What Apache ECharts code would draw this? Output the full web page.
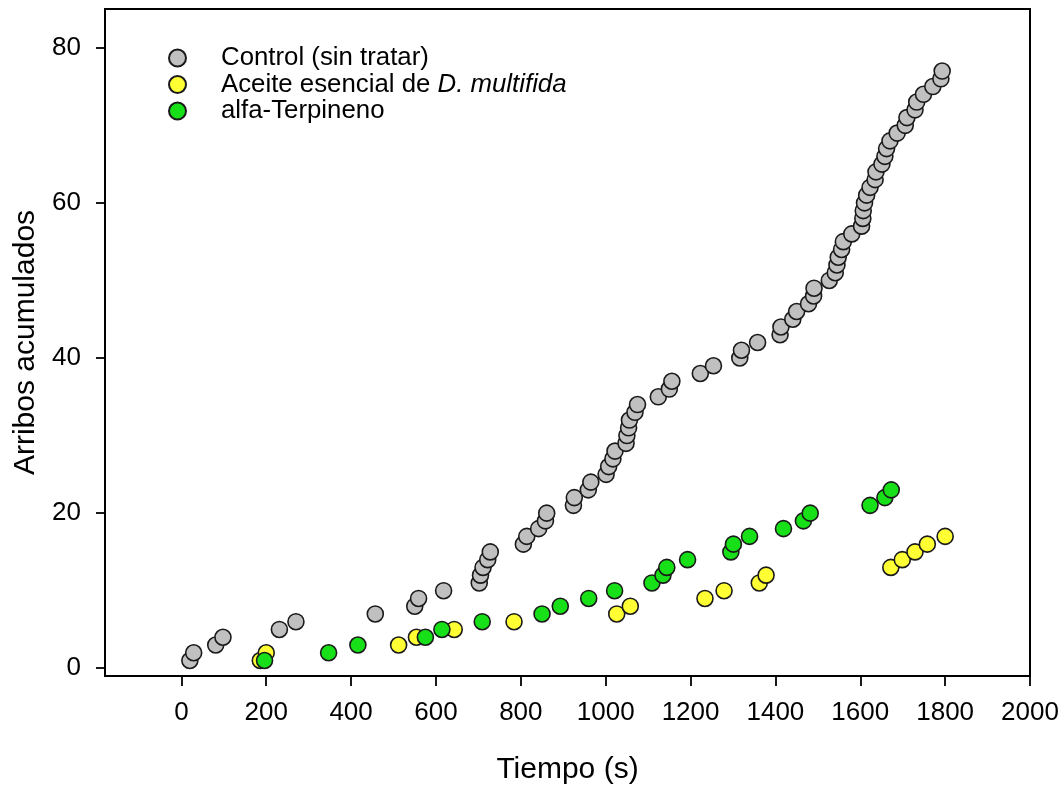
<!DOCTYPE html>
<html>
<head>
<meta charset="utf-8">
<script src="https://cdn.jsdelivr.net/npm/echarts@6/dist/echarts.min.js"></script>
<style>
  html, body { margin: 0; padding: 0; background: #ffffff; }
  #chart { width: 1064px; height: 787px; }
</style>
</head>
<body>
<div id="chart"></div>
<script>
// Cumulative arrivals over time for each treatment
const seriesNames = ['Control (sin tratar)', 'Aceite esencial de D. multifida', 'alfa-Terpineno'];

const controlTime = [20, 29, 81, 98, 231, 270, 457, 550, 559, 618,
  702, 705, 711, 722, 728, 806, 814, 842, 858, 861,
  924, 926, 959, 965, 1001, 1007, 1017, 1022, 1048, 1050,
  1054, 1056, 1069, 1075, 1124, 1150, 1156, 1223, 1254, 1316,
  1320, 1358, 1411, 1413, 1441, 1450, 1478, 1490, 1491, 1527,
  1541, 1545, 1548, 1556, 1560, 1580, 1603, 1606, 1607, 1610,
  1615, 1623, 1635, 1637, 1651, 1658, 1662, 1670, 1687, 1706,
  1710, 1729, 1733, 1749, 1771, 1790, 1793];
const controlCount = [1, 2, 3, 4, 5, 6, 7, 8, 9, 10,
  11, 12, 13, 14, 15, 16, 17, 18, 19, 20,
  21, 22, 23, 24, 25, 26, 27, 28, 29, 30,
  31, 32, 33, 34, 35, 36, 37, 38, 39, 40,
  41, 42, 43, 44, 45, 46, 47, 48, 49, 50,
  51, 52, 53, 54, 55, 56, 57, 58, 59, 60,
  61, 62, 63, 64, 65, 66, 67, 68, 69, 70,
  71, 72, 73, 74, 75, 76, 77];

const aceiteTime = [186, 200, 512, 554, 643, 784, 1026, 1058, 1234, 1279,
  1362, 1378, 1672, 1699, 1729, 1758, 1800];
const aceiteCount = [1, 2, 3, 4, 5, 6, 7, 8, 9, 10,
  11, 12, 13, 14, 15, 16, 17];

const terpTime = [196, 347, 416, 575, 614, 709, 850, 893, 960, 1021,
  1109, 1135, 1144, 1193, 1295, 1301, 1339, 1419, 1466, 1482,
  1623, 1658, 1673];
const terpCount = [1, 2, 3, 4, 5, 6, 7, 8, 9, 10,
  11, 12, 13, 14, 15, 16, 17, 18, 19, 20,
  21, 22, 23];

const xTicks = [0, 200, 400, 600, 800, 1000, 1200, 1400, 1600, 1800, 2000];
const yTicks = [0, 20, 40, 60, 80];

const colors = ['#c0c0c0', '#ffff33', '#18e018'];
const FONT = '"Liberation Sans", Arial, Helvetica, sans-serif';

function pairs(xs, ys) {
  return xs.map((x, i) => [x, ys[i]]);
}

const chart = echarts.init(document.getElementById('chart'), null, { renderer: 'canvas' });

const makeSeries = (name, data, color) => ({
  name: name,
  type: 'scatter',
  data: data,
  symbol: 'circle',
  symbolSize: 16,
  itemStyle: { color: color, borderColor: '#1a1a1a', borderWidth: 1.6, opacity: 1 },
  emphasis: { disabled: true },
  animation: false
});

const plainLabel = (v) => String(v);

chart.setOption({
  backgroundColor: '#ffffff',
  animation: false,
  textStyle: { fontFamily: FONT },
  grid: {
    left: 105, right: 34, top: 9, bottom: 111,
    show: true, borderColor: '#000', borderWidth: 2,
    outerBoundsMode: 'none'
  },
  legend: {
    orient: 'vertical',
    left: 163, top: 40,
    itemWidth: 17, itemHeight: 17, itemGap: 0.5,
    icon: 'circle',
    selectedMode: false,
    data: seriesNames,
    textStyle: {
      fontFamily: FONT, fontSize: 25.8, color: '#000', lineHeight: 25,
      padding: [0, 0, 0, 30],
      rich: {
        n: { fontFamily: FONT, fontSize: 25.8, color: '#000' },
        i: { fontFamily: FONT, fontSize: 25.8, color: '#000', fontStyle: 'italic' }
      }
    },
    formatter: function (name) {
      if (name === seriesNames[1]) {
        return '{n|Aceite esencial de }{i|D. multifida}';
      }
      return name;
    }
  },
  xAxis: {
    type: 'value',
    min: -180, max: 2000,
    name: 'Tiempo (s)',
    nameLocation: 'middle',
    nameGap: 79,
    nameTextStyle: { fontFamily: FONT, fontSize: 30, color: '#000' },
    axisLine: { show: true, onZero: false, lineStyle: { color: '#000', width: 2 } },
    axisTick: { show: true, inside: false, length: 10, customValues: xTicks, lineStyle: { color: '#000', width: 1.8 } },
    axisLabel: { customValues: xTicks, formatter: plainLabel, margin: 24, fontFamily: FONT, fontSize: 26, color: '#000' },
    splitLine: { show: false }
  },
  yAxis: {
    type: 'value',
    min: -1, max: 85,
    name: 'Arribos acumulados',
    nameLocation: 'middle',
    nameGap: 62,
    nameTextStyle: { fontFamily: FONT, fontSize: 30, color: '#000' },
    axisLine: { show: true, onZero: false, lineStyle: { color: '#000', width: 2 } },
    axisTick: { show: true, inside: false, length: 9, customValues: yTicks, lineStyle: { color: '#000', width: 1.8 } },
    axisLabel: { customValues: yTicks, formatter: plainLabel, margin: 24, fontFamily: FONT, fontSize: 26, color: '#000' },
    splitLine: { show: false }
  },
  series: [
    makeSeries(seriesNames[0], pairs(controlTime, controlCount), colors[0]),
    makeSeries(seriesNames[1], pairs(aceiteTime, aceiteCount), colors[1]),
    makeSeries(seriesNames[2], pairs(terpTime, terpCount), colors[2])
  ]
});
</script>
</body>
</html>
